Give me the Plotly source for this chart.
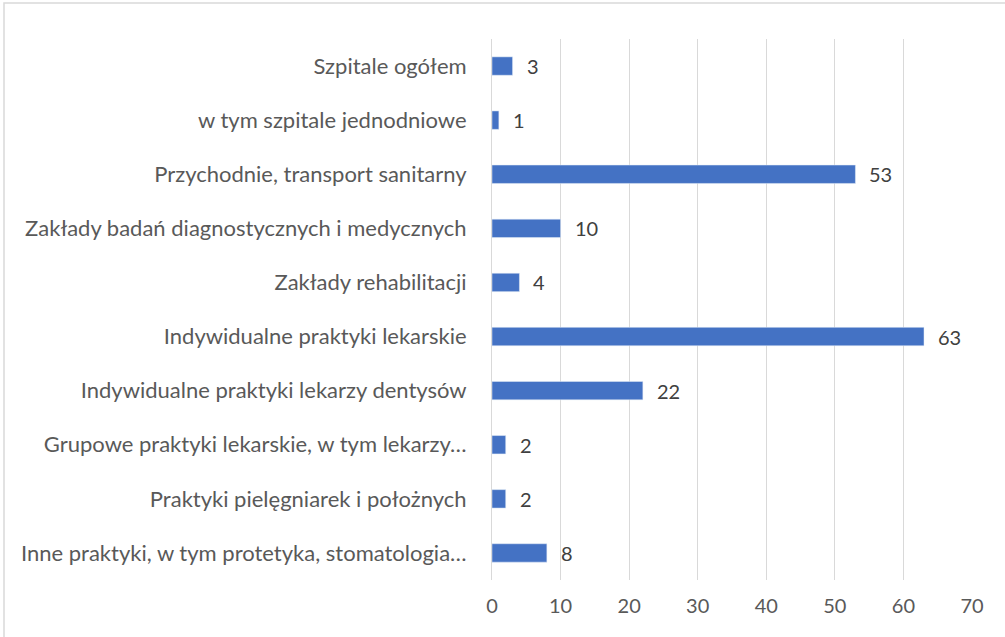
import plotly.graph_objects as go

categories = [
    "Szpitale ogółem",
    "w tym szpitale jednodniowe",
    "Przychodnie, transport sanitarny",
    "Zakłady badań diagnostycznych i medycznych",
    "Zakłady rehabilitacji",
    "Indywidualne praktyki lekarskie",
    "Indywidualne praktyki lekarzy dentysów",
    "Grupowe praktyki lekarskie, w tym lekarzy…",
    "Praktyki pielęgniarek i położnych",
    "Inne praktyki, w tym protetyka, stomatologia…",
]
values = [3, 1, 53, 10, 4, 63, 22, 2, 2, 8]
x_ticks = [0, 10, 20, 30, 40, 50, 60, 70]

W, H = 1005, 637
L, R, T, B = 492, 33, 39, 57
pw, ph = W - L - R, H - T - B


def px_x(p):
    return (p - L) / pw


def px_y(p):
    return (H - B - p) / ph


FONT = "Lato, sans-serif"

fig = go.Figure(
    go.Bar(
        x=values,
        y=categories,
        orientation="h",
        marker=dict(color="#4472C4"),
        hoverinfo="x+y",
    )
)

# value labels next to the bars
for cat, v in zip(categories, values):
    fig.add_annotation(
        x=v,
        y=cat,
        text=str(v),
        showarrow=False,
        xanchor="left",
        xshift=12,
        font=dict(family=FONT, size=20, color="#404040"),
    )

fig.update_layout(
    width=W,
    height=H,
    margin=dict(l=L, r=R, t=T, b=B),
    paper_bgcolor="white",
    plot_bgcolor="white",
    font=dict(family=FONT, size=20, color="#595959"),
    bargap=0.66,
    showlegend=False,
    shapes=[
        dict(
            type="rect",
            xref="paper",
            yref="paper",
            x0=px_x(4),
            x1=px_x(1010),
            y0=px_y(3),
            y1=px_y(645),
            line=dict(color="#d9d9d9", width=1.5),
            layer="below",
        )
    ],
)

fig.update_xaxes(
    range=[0, 70],
    tickvals=x_ticks,
    showgrid=True,
    gridcolor="#d9d9d9",
    gridwidth=1,
    zeroline=False,
    showline=False,
    ticks="",
    ticklabelstandoff=12,
    tickfont=dict(size=20, color="#595959"),
)
fig.update_yaxes(
    categoryorder="array",
    categoryarray=categories[::-1],
    showline=True,
    linecolor="#d9d9d9",
    linewidth=1,
    ticks="",
    ticklabelstandoff=20,
    tickfont=dict(size=22, color="#595959"),
)

fig.write_html(
    "out.html",
    config={"displayModeBar": False},
    post_script="document.body.style.margin='0';",
)
